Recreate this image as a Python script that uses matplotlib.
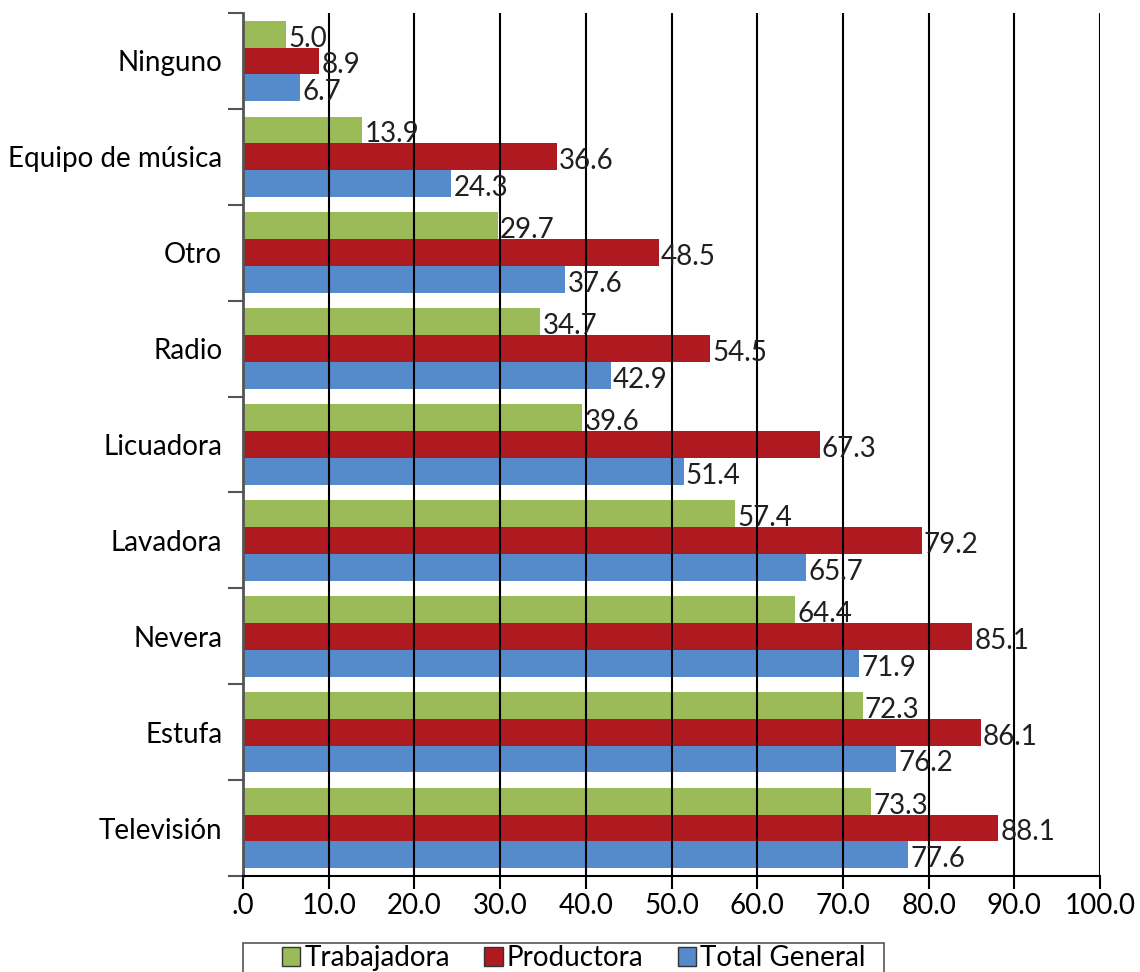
import numpy as np
import matplotlib.pyplot as plt
from matplotlib.patches import Rectangle

plt.rcParams['font.family'] = ['Lato', 'DejaVu Sans']

## Datos
categorias = ['Televisión', 'Estufa', 'Nevera', 'Lavadora', 'Licuadora',
              'Radio', 'Otro', 'Equipo de música', 'Ninguno']
trabajadora = [73.3, 72.3, 64.4, 57.4, 39.6, 34.7, 29.7, 13.9, 5.0]
productora = [88.1, 86.1, 85.1, 79.2, 67.3, 54.5, 48.5, 36.6, 8.9]
total_general = [77.6, 76.2, 71.9, 65.7, 51.4, 42.9, 37.6, 24.3, 6.7]
xticks = np.arange(0, 101, 10)
xlabels = ['.0'] + ['%.1f' % v for v in xticks[1:]]

c_verde = '#9BBB59'; c_rojo = '#AE1A20'; c_azul = '#558ACB'
h = 0.28
y = np.arange(len(categorias))

fig = plt.figure(figsize=(11.4, 9.72), dpi=100)
ax = fig.add_axes([0.2132, 0.0988, 0.7517, 0.8878])

series = [(trabajadora, c_verde, 'Trabajadora', h),
          (productora, c_rojo, 'Productora', 0),
          (total_general, c_azul, 'Total General', -h)]
for vals, col, lab, off in series:
    ax.barh(y + off, vals, height=h, color=col, label=lab, zorder=1)
    # etiqueta con la base en el borde inferior de la barra
    for yi, v in zip(y, vals):
        ax.text(v + 0.25, yi + off - h / 2 + 0.01, '%.1f' % v, ha='left',
                va='baseline', fontsize=20, color='#231F20', zorder=3)

ax.set_xlim(0, 100)
ax.set_ylim(-0.5, 8.5)
for xv in xticks[1:]:
    ax.axvline(xv, color='black', lw=1.5, zorder=2)

ax.set_xticks(xticks)
ax.set_xticklabels(xlabels, fontsize=20)
ax.set_yticks(y)
ax.set_yticklabels(categorias, fontsize=20)
ax.set_yticks(np.arange(-0.5, 9, 1), minor=True)
ax.tick_params(axis='y', which='major', length=0, pad=15)
ax.tick_params(axis='y', which='minor', length=10.5, width=1.5, color='#555555')
ax.tick_params(axis='x', length=9, width=1.5, pad=3)

ax.spines['top'].set_visible(False)
ax.spines['right'].set_visible(False)
ax.spines['left'].set_color('#555555')
ax.spines['left'].set_linewidth(2)
ax.spines['bottom'].set_linewidth(1.5)

# marco de la leyenda (se sale por abajo, como en el original)
fig.patches.append(Rectangle((243 / 1140, -0.02), 641 / 1140, 29 / 972 + 0.02,
                             transform=fig.transFigure, fill=False,
                             edgecolor='#555555', lw=1.2))
leg = fig.legend(loc='upper left', bbox_to_anchor=(282 / 1140, 1 - 945 / 972),
                 ncol=3, fontsize=20, frameon=False,
                 handlelength=0.65, handleheight=0.65, handletextpad=0.15,
                 columnspacing=1.25, borderpad=0, borderaxespad=0)
for p in leg.get_patches():
    p.set_edgecolor('#333333')
    p.set_linewidth(1)

plt.savefig('out.png', dpi=100)
